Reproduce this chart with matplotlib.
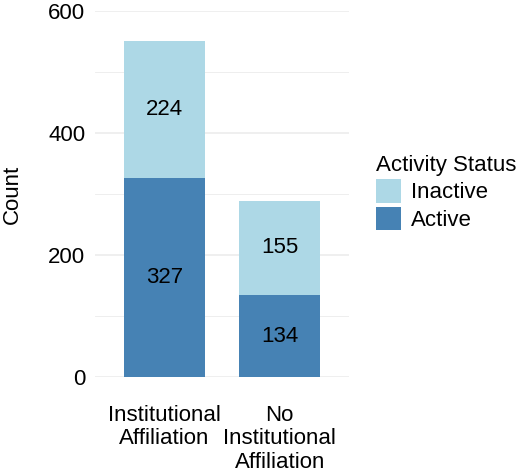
import numpy as np
import matplotlib
matplotlib.use('Agg')
import matplotlib.pyplot as plt
from matplotlib.patches import Patch

plt.rcParams['font.family'] = ['Liberation Sans', 'DejaVu Sans']

categories = ['Institutional\nAffiliation', 'No\nInstitutional\nAffiliation']
active = [327, 134]
inactive = [224, 155]
yticks = [0, 200, 400, 600]
minor_ticks = [100, 300, 500]

c_active = '#4682B4'
c_inactive = '#ADD8E6'
fntsz = 16

fig = plt.figure(figsize=(5.2, 4.73), dpi=100)
ax = fig.add_axes([95/520, 96/473, 254/520, 366/473])

x = np.arange(1, len(categories)+1)
ax.bar(x, active, width=0.7, color=c_active, zorder=3)
ax.bar(x, inactive, width=0.7, bottom=active, color=c_inactive, zorder=3)

#Counts in the middle of each segment
for i in range(len(x)):
    ax.text(x[i], active[i]/2, str(active[i]), ha='center', va='center', fontsize=fntsz, zorder=4)
    ax.text(x[i], active[i] + inactive[i]/2, str(inactive[i]), ha='center', va='center', fontsize=fntsz, zorder=4)

ax.set_xlim(0.4, 2.6)
ax.set_ylim(0, 600)
ax.set_yticks(yticks)
ax.set_yticks(minor_ticks, minor=True)
ax.set_xticks(x)
ax.set_xticklabels(categories, fontsize=fntsz, linespacing=1.15)
ax.tick_params(axis='y', labelsize=fntsz, length=0, pad=7)
ax.tick_params(axis='x', length=0, pad=20)
ax.tick_params(which='minor', length=0)
for s in ax.spines.values():
    s.set_visible(False)
ax.grid(axis='y', which='major', color='#ebebeb', linewidth=1.1, zorder=0)
ax.grid(axis='y', which='minor', color='#ebebeb', linewidth=0.6, zorder=0)
ax.set_ylabel('Count', fontsize=fntsz)
ax.yaxis.set_label_coords(-0.285, 0.5)

handles = [Patch(facecolor=c_inactive, edgecolor='none'), Patch(facecolor=c_active, edgecolor='none')]
leg = fig.legend(handles, ['Inactive', 'Active'], title='Activity Status', loc='upper left',
                 bbox_to_anchor=(367/520, 1 - 146/473), frameon=False, fontsize=fntsz,
                 title_fontsize=fntsz, handlelength=1.15, handleheight=1.25,
                 labelspacing=0.15, handletextpad=0.45, borderaxespad=0)
leg._legend_box.align = 'left'

fig.savefig('out.png', dpi=100)
